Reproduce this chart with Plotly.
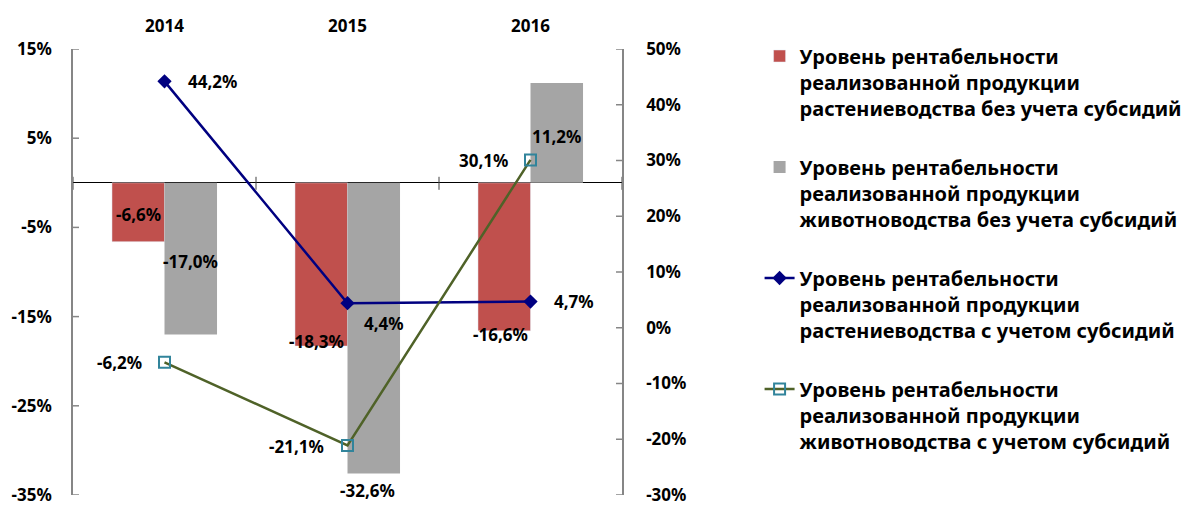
import plotly.graph_objects as go

years = ["2014", "2015", "2016"]
crop_no_sub = [-6.6, -18.3, -16.6]
live_no_sub = [-17.0, -32.6, 11.2]
crop_sub = [44.2, 4.4, 4.7]
live_sub = [-6.2, -21.1, 30.1]

names = [
    "Уровень рентабельности<br>реализованной продукции<br>растениеводства без учета субсидий",
    "Уровень рентабельности<br>реализованной продукции<br>животноводства без учета субсидий",
    "Уровень рентабельности<br>реализованной продукции<br>растениеводства с учетом субсидий",
    "Уровень рентабельности<br>реализованной продукции<br>животноводства с учетом субсидий",
]

left_ticks = [15, 5, -5, -15, -25, -35]
right_ticks = [50, 40, 30, 20, 10, 0, -10, -20, -30]
left_range = [-35, 15]
right_range = [-30, 50]

FONT = "Noto Sans"
LBL = dict(family=FONT, size=17, color="black")

xpos = list(range(len(years)))


def fmt(v):
    return "<b>" + f"{v:.1f}".replace(".", ",") + "%</b>"


def tick_txt(v):
    return f"{v}%"


fig = go.Figure()
fig.add_trace(go.Bar(x=xpos, y=crop_no_sub, name=names[0], marker_color="#C0504D",
                     legendgroup="a", yaxis="y"))
fig.add_trace(go.Bar(x=xpos, y=live_no_sub, name=names[1], marker_color="#A5A5A5",
                     marker_line=dict(color="#A5A5A5", width=0), legendgroup="b", yaxis="y"))
fig.add_trace(go.Scatter(x=xpos, y=crop_sub, name=names[2], mode="lines+markers",
                         line=dict(color="#000080", width=2.5),
                         marker=dict(symbol="diamond", size=11, color="#000080"),
                         legendgroup="c", yaxis="y2"))
fig.add_trace(go.Scatter(x=xpos, y=live_sub, name=names[3], mode="lines+markers",
                         line=dict(color="#4F6228", width=2.5),
                         marker=dict(symbol="square-open", size=11, color="#31849B",
                                     line=dict(width=2, color="#31849B")),
                         legendgroup="d", yaxis="y2"))

# data labels (offsets in px relative to data points)
red_off = [(-26, 27), (-31, 5), (-30, -4)]
grey_off = [(26, 73), (20, -17), (26, -54)]
blue_off = [(48, 0), (36, -20), (43, 0)]
green_off = [(-45, 0), (-51, -1), (-47, -1)]
for vals, offs, yref in [(crop_no_sub, red_off, "y"), (live_no_sub, grey_off, "y"),
                         (crop_sub, blue_off, "y2"), (live_sub, green_off, "y2")]:
    for xi, v, (dx, dy) in zip(xpos, vals, offs):
        fig.add_annotation(x=xi, y=v, xref="x", yref=yref, text=fmt(v), showarrow=False,
                           xshift=dx, yshift=dy, font=LBL)

AX = "#868686"
TF = dict(family=FONT, size=17, color="black", weight="bold")

# cross-style tick marks (pixel sized, anchored to axis positions)
x_left = -0.5
x_right = len(years) - 0.5
for v in left_ticks:
    fig.add_shape(type="line", xref="x", yref="y", xsizemode="pixel", xanchor=x_left,
                  x0=-6, x1=6, y0=v, y1=v, line=dict(color=AX, width=1.5))
for v in right_ticks:
    fig.add_shape(type="line", xref="x", yref="y2", xsizemode="pixel", xanchor=x_right,
                  x0=-6, x1=6, y0=v, y1=v, line=dict(color=AX, width=1.5))
for i in range(len(years) + 1):
    fig.add_shape(type="line", xref="x", yref="y", ysizemode="pixel", yanchor=0,
                  x0=i - 0.5, x1=i - 0.5, y0=-7, y1=6,
                  line=dict(color="#404040", width=1))

fig.update_layout(
    width=1186, height=506,
    margin=dict(l=73, r=564, t=49, b=11, autoexpand=False),
    plot_bgcolor="white", paper_bgcolor="white",
    barmode="group", bargap=0.426, bargroupgap=0,
    font=dict(family=FONT, color="black"),
    showlegend=True,
    legend=dict(x=1.2506, xanchor="left", y=1.028, yanchor="top",
                font=dict(family=FONT, size=20, color="black", weight="bold"),
                tracegroupgap=30, valign="top", traceorder="grouped",
                maxheight=500, bgcolor="rgba(0,0,0,0)"),
    xaxis=dict(type="linear", side="top", showline=False, ticks="", showgrid=False,
               zeroline=False, tickfont=TF, range=[x_left, x_right], anchor="y",
               tickvals=xpos, ticktext=years,
               ticklabelstandoff=13, automargin=False),
    yaxis=dict(range=left_range, tickvals=left_ticks,
               ticktext=[tick_txt(v) for v in left_ticks], showgrid=False,
               zeroline=True, zerolinecolor="black", zerolinewidth=1,
               showline=True, linecolor=AX, linewidth=1.5, ticklabeloverflow="allow",
               ticks="", tickfont=TF, ticklabelstandoff=16, anchor="x", automargin=False),
    yaxis2=dict(range=right_range, tickvals=right_ticks,
                ticktext=[tick_txt(v) for v in right_ticks], overlaying="y",
                side="right", showgrid=False, zeroline=False, showline=True,
                linecolor=AX, linewidth=1.5, ticks="", tickfont=TF,
                ticklabeloverflow="allow",
                ticklabelstandoff=19, anchor="x", automargin=False),
)

fig.write_html("out.html", post_script="document.body.style.margin='0';",
               config={"displayModeBar": False})
